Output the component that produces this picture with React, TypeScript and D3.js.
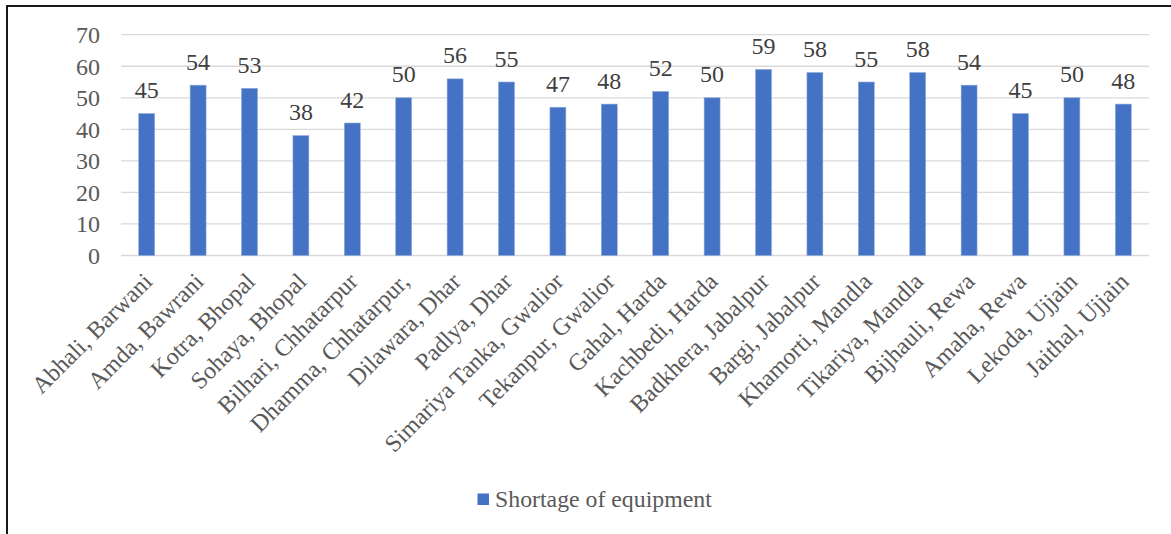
import React from "react";
import * as d3 from "d3";

const categories = [
  "Abhali, Barwani", "Amda, Bawrani", "Kotra, Bhopal", "Sohaya, Bhopal",
  "Bilhari, Chhatarpur", "Dhamma, Chhatarpur,", "Dilawara, Dhar", "Padlya, Dhar",
  "Simariya Tanka, Gwalior", "Tekanpur, Gwalior", "Gahal, Harda", "Kachbedi, Harda",
  "Badkhera, Jabalpur", "Bargi, Jabalpur", "Khamorti, Mandla", "Tikariya, Mandla",
  "Bijhauli, Rewa", "Amaha, Rewa", "Lekoda, Ujjain", "Jaithal, Ujjain",
];
const values = [45, 54, 53, 38, 42, 50, 56, 55, 47, 48, 52, 50, 59, 58, 55, 58, 54, 45, 50, 48];
const yTicks = [0, 10, 20, 30, 40, 50, 60, 70];
const seriesName = "Shortage of equipment";

const W = 1171, H = 534;
const FONT = "Liberation Serif";
const TXT = "#595959";
const BAR = "#4472C4";
const ts = { fontFamily: FONT };

export default function App() {
  const x = d3.scaleBand<string>().domain(categories).range([121, 1149]).paddingInner(0.69).paddingOuter(0.345);
  const y = d3.scaleLinear().domain([0, 70]).range([255.5, 34.7]);
  return (
    <svg width={W} height={H} style={{ position: "absolute", left: 0, top: 0, background: "#fff" }}>
      <rect x={0} y={0} width={W} height={H} fill="#fff" />
      <rect x={7} y={6} width={W + 20} height={H + 20} fill="none" stroke="#000" strokeWidth={1.8} />
      {yTicks.map((t) => (
        <g key={t}>
          <line x1={121} x2={1149} y1={y(t)} y2={y(t)} stroke="#D9D9D9" strokeWidth={1.3} />
          <text x={100} y={y(t)} dy="0.35em" textAnchor="end" fontSize={24} fill={TXT} style={ts}>{t}</text>
        </g>
      ))}
      {categories.map((c, i) => {
        const bx = x(c)!;
        const cx = bx + x.bandwidth() / 2;
        return (
          <g key={c}>
            <rect x={bx} y={y(values[i])} width={x.bandwidth()} height={y(0) - y(values[i])} fill={BAR} stroke="#8FAADC" strokeWidth={0.6} />
            <text x={cx} y={y(values[i]) - 15.5} textAnchor="middle" fontSize={24} fill="#404040" style={ts}>{values[i]}</text>
            <text transform={`translate(${cx + 1},277) rotate(-45)`} dy="0.35em" textAnchor="end" fontSize={24} fill={TXT} style={ts}>{c}</text>
          </g>
        );
      })}
      <rect x={477.5} y={493.5} width={11.5} height={11.5} fill={BAR} />
      <text x={495} y={507} fontSize={23.8} fill={TXT} style={ts}>{seriesName}</text>
    </svg>
  );
}
